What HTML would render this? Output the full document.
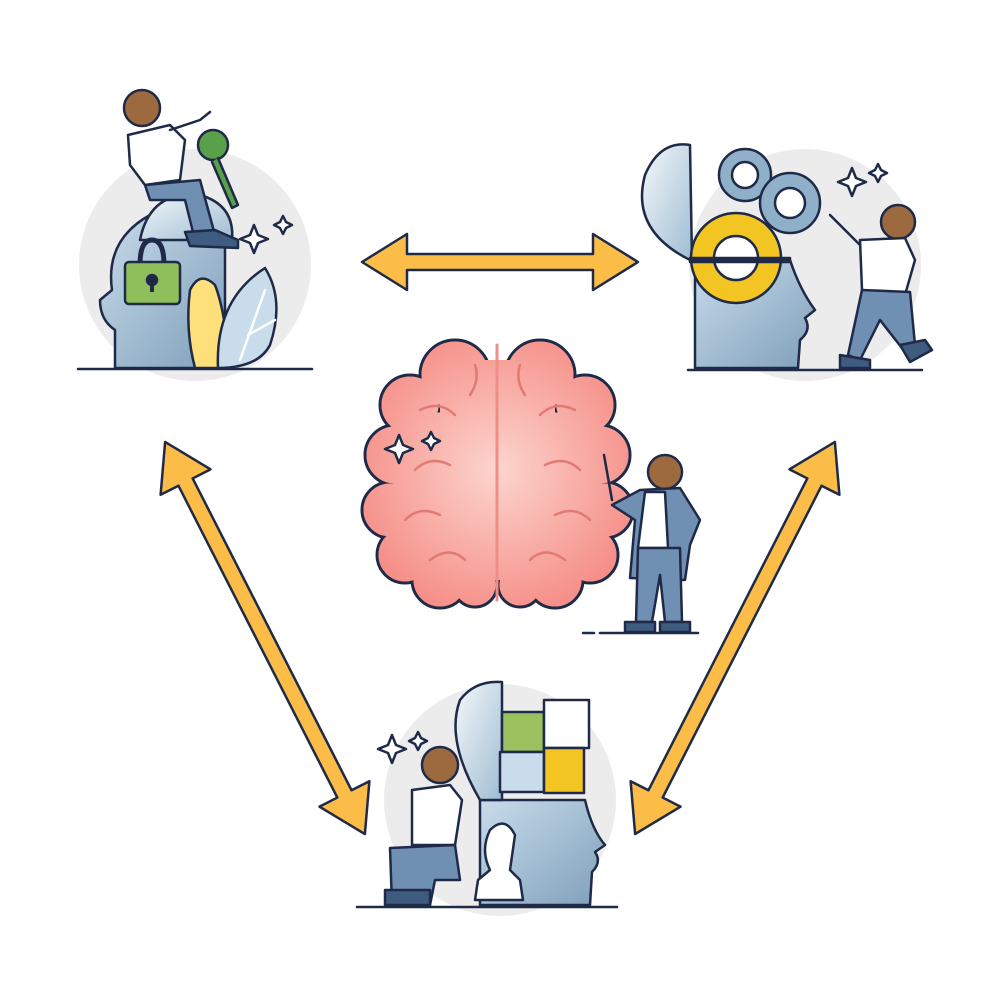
<!DOCTYPE html>
<html><head><meta charset="utf-8"><style>html,body{margin:0;padding:0;background:#fff}svg{display:block}</style></head>
<body>
<svg width="1000" height="1000" viewBox="0 0 1000 1000" xmlns="http://www.w3.org/2000/svg">
<defs>
<linearGradient id="hg" x1="0" y1="0" x2="1" y2="1"><stop offset="0" stop-color="#c9dceb"/><stop offset="1" stop-color="#7e9fba"/></linearGradient>
<linearGradient id="lid" x1="0" y1="0" x2="1" y2="1"><stop offset="0" stop-color="#f4f8fb"/><stop offset="1" stop-color="#9fbcd2"/></linearGradient>
<radialGradient id="br" gradientUnits="userSpaceOnUse" cx="497" cy="470" r="150"><stop offset="0" stop-color="#fcd5ce"/><stop offset="1" stop-color="#f58e87"/></radialGradient>
</defs>
<g stroke="#1e2a48" stroke-width="2.5" stroke-linejoin="round" stroke-linecap="round">
<circle cx="195" cy="265" r="116" fill="#ececec" stroke="none"/>
<circle cx="805" cy="265" r="116" fill="#ececec" stroke="none"/>
<circle cx="500" cy="800" r="116" fill="#ececec" stroke="none"/>

<g fill="#fbbd47">
<polygon transform="translate(500,262)" points="-138,0 -93,-28 -93,-8 93,-8 93,-28 138,0 93,28 93,8 -93,8 -93,28"/>
<polygon transform="translate(265,638) rotate(63)" points="-220,0 -175,-28 -175,-8 175,-8 175,-28 220,0 175,28 175,8 -175,8 -175,28"/>
<polygon transform="translate(735,638) rotate(117)" points="-220,0 -175,-28 -175,-8 175,-8 175,-28 220,0 175,28 175,8 -175,8 -175,28"/>
</g>

<!-- TOP LEFT -->
<path d="M115,368 L115,330 Q100,320 100,300 L112,290 Q105,240 150,215 Q205,200 225,245 L225,368 Z" fill="url(#hg)"/>
<path d="M140,240 Q150,190 200,195 Q235,205 232,240 Z" fill="url(#lid)"/>
<path d="M140,265 Q140,240 152,240 Q164,240 164,265" fill="none" stroke-width="5"/>
<rect x="125" y="262" width="55" height="42" rx="4" fill="#8fbf5a"/>
<circle cx="152" cy="280" r="5" fill="#1e2a48"/><rect x="150" y="282" width="4" height="10" fill="#1e2a48" stroke="none"/>
<path d="M195,368 Q185,330 190,290 Q200,270 215,285 Q225,310 230,368 Z" fill="#fde07a"/>
<path d="M218,368 Q215,300 265,268 Q285,300 270,345 Q258,368 218,368 Z" fill="#c9dceb"/>
<path d="M240,360 L265,290 M248,335 L275,320" fill="none" stroke="#fff"/>
<circle cx="142" cy="108" r="18" fill="#9c6a3e"/>
<path d="M128,135 L170,125 L185,140 L180,180 L145,185 L130,165 Z" fill="#fff"/>
<path d="M145,185 L200,180 L215,235 L195,240 L185,200 L150,200 Z" fill="#6f90b2"/>
<path d="M185,232 L215,230 L238,240 L238,248 L190,246 Z" fill="#3e5b80"/>
<path d="M170,130 L200,120 L210,112" fill="none"/>
<circle cx="213" cy="145" r="15" fill="#5aa04a"/>
<path d="M218,158 L238,205 L232,208 L212,162" fill="#5aa04a"/>
<line x1="78" y1="369" x2="312" y2="369"/>
<path d="M250,235 l4,-10 l4,10 l10,4 l-10,4 l-4,10 l-4,-10 l-10,-4 Z M280,222 l3,-6 l3,6 l6,3 l-6,3 l-3,6 l-3,-6 l-6,-3 Z" fill="#fff"/>

<!-- TOP RIGHT -->
<path d="M695,368 L695,260 L790,260 Q800,290 815,310 L805,318 Q812,330 800,340 L798,368 Z" fill="url(#hg)"/>
<path d="M690,260 Q630,230 645,175 Q660,140 690,145 L692,260 Z" fill="url(#lid)"/>
<circle cx="736" cy="258" r="45" fill="#f2c522"/><circle cx="736" cy="258" r="22" fill="#fff"/>
<rect x="690" y="258" width="100" height="4" fill="#1e2a48"/>
<circle cx="745" cy="175" r="26" fill="#8fb0c8"/><circle cx="745" cy="175" r="13" fill="#fff"/>
<circle cx="790" cy="203" r="30" fill="#8fb0c8"/><circle cx="790" cy="203" r="15" fill="#fff"/>
<circle cx="898" cy="222" r="17" fill="#9c6a3e"/>
<path d="M860,240 L905,238 L915,260 L905,295 L862,290 Z" fill="#fff"/>
<path d="M862,290 L910,292 L915,345 L905,352 L880,320 L860,360 L848,355 Z" fill="#6f90b2"/>
<path d="M840,355 L870,360 L870,368 L840,368 Z M900,345 L925,340 L932,350 L910,362 Z" fill="#3e5b80"/>
<path d="M860,245 L830,215" fill="none"/>
<line x1="688" y1="370" x2="922" y2="370"/>
<path d="M848,178 l4,-10 l4,10 l10,4 l-10,4 l-4,10 l-4,-10 l-10,-4 Z M875,170 l3,-6 l3,6 l6,3 l-6,3 l-3,6 l-3,-6 l-6,-3 Z" fill="#fff"/>

<!-- BOTTOM -->
<path d="M480,905 L480,800 L585,800 Q592,830 605,845 L595,852 Q602,862 592,872 L590,905 Z" fill="url(#hg)"/>
<path d="M480,800 Q445,740 460,700 Q475,680 502,682 L502,800 Z" fill="url(#lid)"/>
<rect x="502" y="712" width="42" height="40" fill="#9bc15e"/>
<rect x="544" y="700" width="45" height="48" fill="#fff"/>
<rect x="500" y="752" width="44" height="40" fill="#c9dceb"/>
<rect x="544" y="748" width="40" height="45" fill="#f2c522"/>
<path d="M475,900 L478,880 L490,870 Q480,850 490,830 Q505,815 515,835 L510,870 L520,880 L523,900 Z" fill="#fff"/>
<circle cx="440" cy="765" r="18" fill="#9c6a3e"/>
<path d="M412,790 L450,785 L462,800 L455,845 L412,845 Z" fill="#fff"/>
<path d="M390,848 L455,845 L460,880 L435,880 L430,905 L392,905 Z" fill="#6f90b2"/>
<rect x="385" y="890" width="45" height="15" fill="#3e5b80"/>
<line x1="357" y1="907" x2="617" y2="907"/>
<path d="M388,745 l4,-10 l4,10 l10,4 l-10,4 l-4,10 l-4,-10 l-10,-4 Z M415,738 l3,-6 l3,6 l6,3 l-6,3 l-3,6 l-3,-6 l-6,-3 Z" fill="#fff"/>

<!-- BRAIN -->
<g fill="url(#br)">
<g stroke-width="3">
<circle cx="455" cy="375" r="35"/><circle cx="410" cy="405" r="30"/><circle cx="395" cy="455" r="30"/>
<circle cx="390" cy="510" r="28"/><circle cx="405" cy="555" r="28"/><circle cx="440" cy="580" r="28"/>
<circle cx="475" cy="585" r="22"/><circle cx="450" cy="470" r="60"/>
<circle cx="540" cy="375" r="35"/><circle cx="585" cy="405" r="30"/><circle cx="600" cy="455" r="30"/>
<circle cx="605" cy="510" r="28"/><circle cx="590" cy="555" r="28"/><circle cx="555" cy="580" r="28"/>
<circle cx="520" cy="585" r="22"/><circle cx="545" cy="470" r="60"/>
</g>
<g stroke="none">
<circle cx="455" cy="375" r="33.5"/><circle cx="410" cy="405" r="28.5"/><circle cx="395" cy="455" r="28.5"/>
<circle cx="390" cy="510" r="26.5"/><circle cx="405" cy="555" r="26.5"/><circle cx="440" cy="580" r="26.5"/>
<circle cx="475" cy="585" r="20.5"/><circle cx="450" cy="470" r="58.5"/>
<circle cx="540" cy="375" r="33.5"/><circle cx="585" cy="405" r="28.5"/><circle cx="600" cy="455" r="28.5"/>
<circle cx="605" cy="510" r="26.5"/><circle cx="590" cy="555" r="26.5"/><circle cx="555" cy="580" r="26.5"/>
<circle cx="520" cy="585" r="20.5"/><circle cx="545" cy="470" r="58.5"/>
<circle cx="430" cy="535" r="38"/><circle cx="565" cy="535" r="38"/>
<rect x="440" y="360" width="115" height="220"/>
</g>
</g>
<g fill="none" stroke="#e27a73" stroke-width="2.5">
<path d="M420,410 Q440,400 455,415 M470,395 Q480,380 475,365 M415,470 Q430,455 450,465 M405,520 Q420,505 440,515 M430,560 Q450,545 465,560"/>
<path d="M575,410 Q555,400 540,415 M525,395 Q515,380 520,365 M580,470 Q565,455 545,465 M590,520 Q575,505 555,515 M565,560 Q545,545 530,560"/>
</g>
<line x1="497" y1="345" x2="497" y2="600" stroke="#ed8f88" stroke-width="3"/>
<path d="M395,445 l4,-10 l4,10 l10,4 l-10,4 l-4,10 l-4,-10 l-10,-4 Z M428,438 l3,-6 l3,6 l6,3 l-6,3 l-3,6 l-3,-6 l-6,-3 Z" fill="#fff"/>
<circle cx="665" cy="472" r="17" fill="#9c6a3e"/>
<path d="M640,490 L680,488 L700,520 L690,545 L685,580 L630,578 L635,520 L612,505 Z" fill="#6f90b2"/>
<path d="M645,492 L665,492 L668,548 L638,548 Z" fill="#fff"/>
<path d="M638,548 L680,548 L682,622 L665,622 L660,575 L652,622 L636,622 Z" fill="#6f90b2"/>
<path d="M625,622 L655,622 L655,632 L625,632 Z M660,622 L690,622 L690,632 L660,632 Z" fill="#3e5b80"/>
<line x1="612" y1="500" x2="604" y2="455"/>
<line x1="600" y1="633" x2="698" y2="633"/><line x1="583" y1="633" x2="594" y2="633"/>
</g>
</svg>
</body></html>
